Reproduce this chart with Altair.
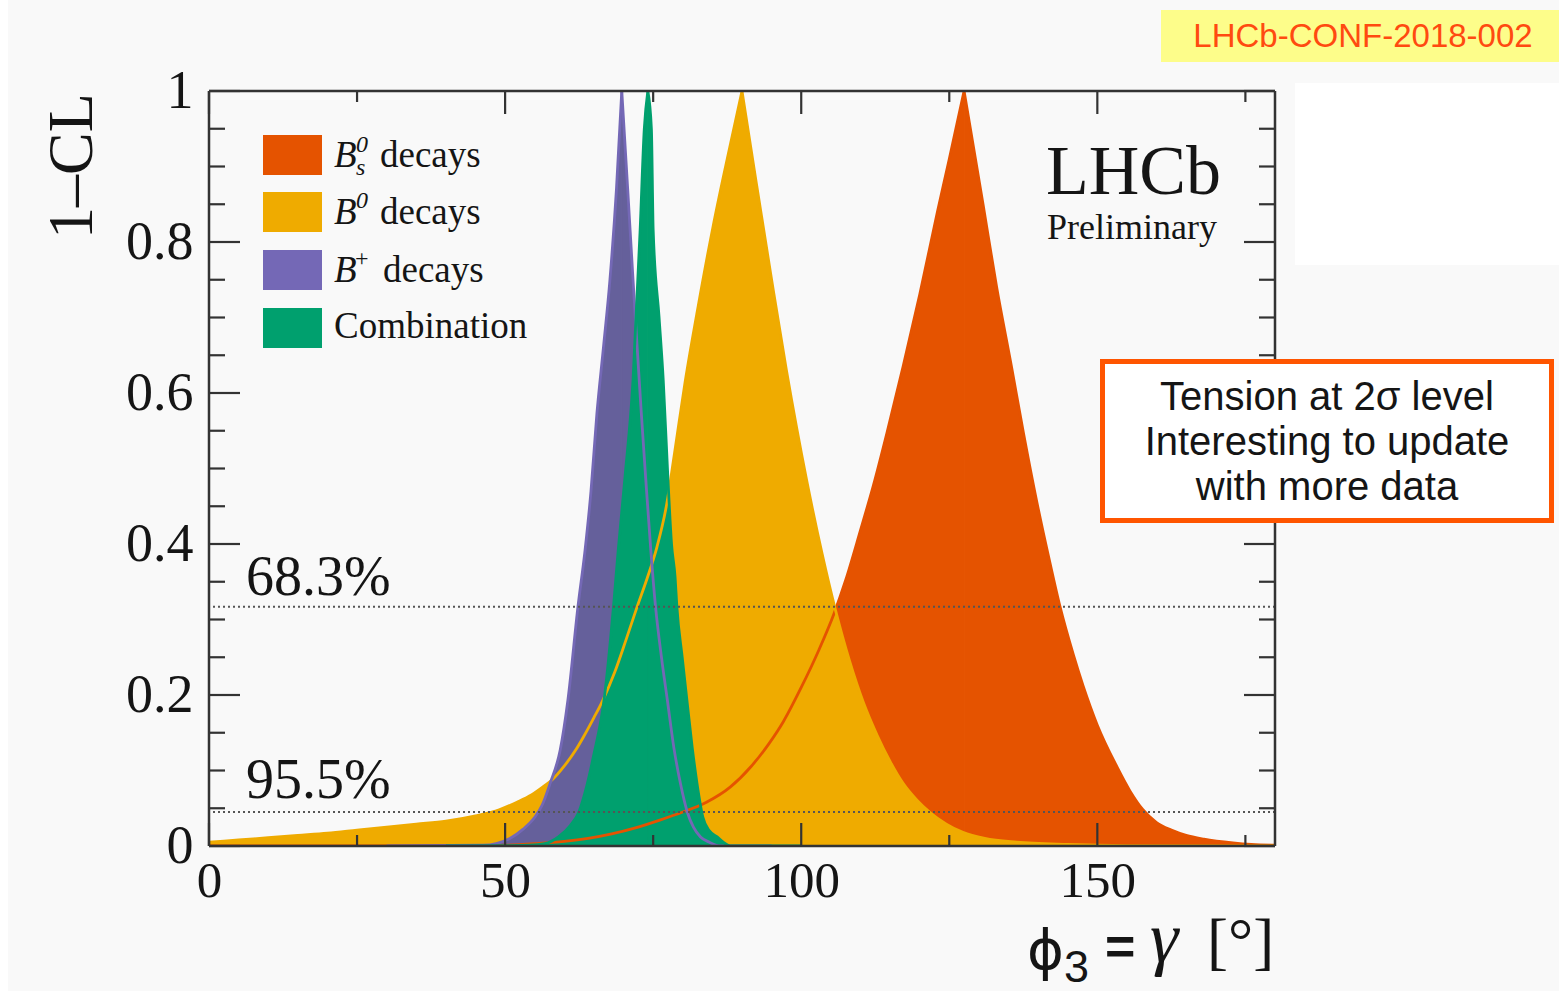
import altair as alt
import pandas as pd

# ---------------- data ----------------
BS_LEFT_X = [0, 40, 50, 55, 60, 64, 68, 72, 76, 80, 84, 88, 91.5, 94.5, 97, 100, 103, 105.5, 107.5, 110, 112.2, 114.5, 117.2, 120, 123, 125, 127.5]
BS_LEFT_Y = [0, 0, 0.001, 0.003, 0.006, 0.010, 0.016, 0.024, 0.034, 0.045, 0.058, 0.078, 0.105, 0.135, 0.165, 0.21, 0.26, 0.307, 0.352, 0.418, 0.478, 0.548, 0.635, 0.73, 0.84, 0.91, 1.0]
BS_RIGHT_X = [127.5, 130.7, 133, 135.5, 137.5, 139.8, 142, 143.7, 146, 147.6, 150, 153.3, 155.5, 157.7, 160, 162.5, 165, 168, 172.9, 176, 180]
BS_RIGHT_Y = [1.0, 0.85, 0.74, 0.635, 0.548, 0.455, 0.375, 0.317, 0.252, 0.212, 0.16, 0.105, 0.073, 0.048, 0.031, 0.021, 0.014, 0.009, 0.004, 0.002, 0.001]

B0_LEFT_X = [0, 5, 10, 15, 20, 25, 30, 35, 40, 45, 49, 52, 54.5, 56.5, 58, 60, 62, 63.2, 65, 66.5, 68.5, 70.5, 72.3, 74, 75.6, 77.2, 78.6, 80.4, 82.6, 85.1, 87.5, 90]
B0_LEFT_Y = [0.005, 0.008, 0.011, 0.014, 0.017, 0.021, 0.025, 0.029, 0.033, 0.040, 0.048, 0.058, 0.068, 0.079, 0.088, 0.106, 0.128, 0.144, 0.17, 0.193, 0.23, 0.275, 0.317, 0.355, 0.395, 0.449, 0.52, 0.615, 0.715, 0.82, 0.91, 1.0]
B0_RIGHT_X = [90, 92.5, 95, 97.5, 100.9, 103.5, 105.7, 108.2, 110.5, 112.8, 115, 117.2, 119.5, 121.8, 124.5, 127.3, 131, 136.4, 145, 155, 180]
B0_RIGHT_Y = [1.0, 0.874, 0.75, 0.63, 0.485, 0.388, 0.315, 0.244, 0.19, 0.147, 0.112, 0.083, 0.061, 0.044, 0.029, 0.018, 0.010, 0.005, 0.002, 0.0005, 0.0]

BP_LEFT_X = [30, 46.3, 50.8, 53, 55, 56.3, 57.6, 59.3, 60.6, 62.3, 63.5, 64.5, 65.5, 66.6, 67.7, 68.8, 69.7]
BP_LEFT_Y = [0, 0.001, 0.010, 0.022, 0.038, 0.055, 0.083, 0.127, 0.193, 0.317, 0.392, 0.47, 0.573, 0.66, 0.75, 0.87, 1.0]
BP_RIGHT_X = [69.7, 70.7, 71.6, 72.3, 73.0, 73.8, 74.6, 75.4, 76.4, 77.4, 78.5, 79.6, 80.8, 81.8, 83.0, 84.5, 86.4, 95]
BP_RIGHT_Y = [1.0, 0.87, 0.75, 0.66, 0.573, 0.48, 0.392, 0.317, 0.25, 0.193, 0.13, 0.083, 0.044, 0.025, 0.012, 0.005, 0.0, 0.0]

CB_LEFT_X = [40, 50, 54, 56.7, 59.0, 61, 62.4, 63.8, 64.9, 66.7, 68.3, 69.1, 70.2, 71.6, 72.8, 73.5, 74.1]
CB_LEFT_Y = [0, 0.0005, 0.001, 0.003, 0.012, 0.027, 0.044, 0.08, 0.118, 0.193, 0.317, 0.392, 0.485, 0.617, 0.816, 0.95, 1.0]
CB_RIGHT_X = [74.1, 74.7, 75.0, 76.0, 76.7, 77.5, 78.1, 78.7, 79.0, 79.9, 80.7, 81.6, 82.4, 83.4, 84.5, 85.8, 87, 88, 100]
CB_RIGHT_Y = [1.0, 0.95, 0.816, 0.70, 0.617, 0.485, 0.40, 0.356, 0.317, 0.25, 0.193, 0.13, 0.083, 0.038, 0.02, 0.012, 0.004, 0.0, 0.0]

SERIES = ["Bs", "B0", "Bp", "Comb"]
AREA_COLORS = ["#e55300", "#efab00", "#65609b", "#00a06e"]
LINE_COLORS = ["#e55300", "#efab00", "#7468b6", "#00a06e"]
LEGEND_COLORS = ["#e55300", "#efab00", "#7468b6", "#00a06e"]

CL_LEVELS = [0.317, 0.045]
X_MAJOR = [0, 50, 100, 150]
X_MINOR = [25, 75, 125, 175]
Y_MAJOR = [0, 0.2, 0.4, 0.6, 0.8, 1.0]
Y_MINOR = [0.05, 0.1, 0.15, 0.25, 0.3, 0.35, 0.45, 0.5, 0.55, 0.65, 0.7, 0.75, 0.85, 0.9, 0.95]

# ---------------- tables ----------------
rows = []
for name, side, xs, ys in [
    ("Bs", "L", BS_LEFT_X, BS_LEFT_Y), ("Bs", "R", BS_RIGHT_X, BS_RIGHT_Y),
    ("B0", "L", B0_LEFT_X, B0_LEFT_Y), ("B0", "R", B0_RIGHT_X, B0_RIGHT_Y),
    ("Bp", "L", BP_LEFT_X, BP_LEFT_Y), ("Bp", "R", BP_RIGHT_X, BP_RIGHT_Y),
    ("Comb", "L", CB_LEFT_X, CB_LEFT_Y), ("Comb", "R", CB_RIGHT_X, CB_RIGHT_Y),
]:
    for xv, yv in zip(xs, ys):
        rows.append({"series": name, "side": side, "x": xv, "y": yv})
df = pd.DataFrame(rows)
ONE = pd.DataFrame({"k": [0]})

W, H = 1066, 755
SERIF = "Liberation Serif"
SANS = "Liberation Sans"
INK = "#151515"
FRAME = "#333333"

xscale = alt.Scale(domain=[0, 180], nice=False, zero=False)
yscale = alt.Scale(domain=[0, 1], nice=False)
X = alt.X("x:Q", scale=xscale,
          axis=alt.Axis(values=X_MAJOR, format="d", labelFont=SERIF, labelFontSize=51,
                        labelColor=INK, ticks=False, domain=False, grid=False,
                        labelPadding=10, labelFlush=False, title=None))
Y = alt.Y("y:Q", scale=yscale, stack=None,
          axis=alt.Axis(values=Y_MAJOR, format=".1~f", labelFont=SERIF, labelFontSize=54,
                        labelColor=INK, ticks=False, domain=False, grid=False,
                        labelPadding=16, labelFlush=False, title=None))


def txt(s, x, y, size, font=SERIF, style="normal", weight="normal", align="left",
        baseline="alphabetic", color=INK, angle=0):
    props = dict(text=s, fontSize=size, font=font, fontStyle=style, fontWeight=weight,
                 align=align, baseline=baseline, color=color)
    if angle:
        props["angle"] = angle
    return alt.Chart(ONE).mark_text(**props).encode(x=alt.value(x), y=alt.value(y))


def rect(x1, y1, x2, y2, fill, stroke="", sw=0):
    props = dict(fill=fill)
    if stroke:
        props.update(stroke=stroke, strokeWidth=sw)
    return alt.Chart(ONE).mark_rect(**props).encode(
        x=alt.value(x1), x2=alt.value(x2), y=alt.value(y1), y2=alt.value(y2))


def seg(x1, y1, x2, y2, color=FRAME, sw=2.5):
    return alt.Chart(ONE).mark_rule(color=color, strokeWidth=sw).encode(
        x=alt.value(x1), x2=alt.value(x2), y=alt.value(y1), y2=alt.value(y2))


layers = []
# page decorations outside the frame
layers.append(rect(-209, -91, -201, 900, "#ffffff"))
layers.append(rect(1086, -8, 1350, 174, "#ffffff"))

# filled areas
for s, c in zip(SERIES, AREA_COLORS):
    layers.append(
        alt.Chart(df).transform_filter(alt.FieldEqualPredicate(field="series", equal=s))
        .mark_area(color=c, stroke=c, strokeWidth=1, interpolate="monotone", clip=True)
        .encode(x=X, y=Y, detail="side:N"))
# outlines on top
for s, c in zip(SERIES, LINE_COLORS):
    layers.append(
        alt.Chart(df).transform_filter(alt.FieldEqualPredicate(field="series", equal=s))
        .mark_line(color=c, strokeWidth=2.8, interpolate="monotone", clip=True)
        .encode(x=X, y=Y, detail="side:N"))

# CL levels
layers.append(alt.Chart(pd.DataFrame({"y": CL_LEVELS})).mark_rule(
    color="#555555", strokeWidth=2, strokeDash=[2, 3]).encode(y=Y))

# ticks (inside, all four sides)
xmaj = pd.DataFrame({"x": X_MAJOR})
xmin = pd.DataFrame({"x": X_MINOR})
ymaj = pd.DataFrame({"y": Y_MAJOR})
ymin = pd.DataFrame({"y": Y_MINOR})
for d, ln in [(xmaj, 23), (xmin, 11)]:
    layers.append(alt.Chart(d).mark_rule(color=FRAME, strokeWidth=2.2).encode(
        x=X, y=alt.value(H), y2=alt.value(H - ln)))
    layers.append(alt.Chart(d).mark_rule(color=FRAME, strokeWidth=2.2).encode(
        x=X, y=alt.value(0), y2=alt.value(ln)))
for d, ln in [(ymaj, 31), (ymin, 16)]:
    layers.append(alt.Chart(d).mark_rule(color=FRAME, strokeWidth=2.2).encode(
        y=Y, x=alt.value(0), x2=alt.value(ln)))
    layers.append(alt.Chart(d).mark_rule(color=FRAME, strokeWidth=2.2).encode(
        y=Y, x=alt.value(W), x2=alt.value(W - ln)))

# frame
layers += [seg(0, 0, W, 0), seg(0, H, W, H), seg(0, 0, 0, H), seg(W, 0, W, H)]

# legend
sw_y = [44, 101, 159, 217]
for i, c in enumerate(LEGEND_COLORS):
    layers.append(rect(54, sw_y[i], 113, sw_y[i] + 40, c))
layers += [
    txt("B", 125, 76, 37, style="italic"),
    txt("0", 147, 61, 24, style="italic"),
    txt("s", 147, 84, 24, style="italic"),
    txt("decays", 171, 76, 37),
    txt("B", 125, 133, 37, style="italic"),
    txt("0", 147, 117, 24, style="italic"),
    txt("decays", 171, 133, 37),
    txt("B", 125, 191, 37, style="italic"),
    txt("+", 146, 175, 24),
    txt("decays", 174, 191, 37),
    txt("Combination", 125, 247, 37),
]

# LHCb label
layers += [txt("LHCb", 837, 103, 70), txt("Preliminary", 838, 148, 36)]

# CL labels
layers += [txt("68.3%", 37, 504, 56), txt("95.5%", 37, 707, 56)]

# axis titles
layers.append(txt("1\u2013CL", -117, 75, 64, align="center", angle=270))
layers += [
    txt("\u03d5", 818, 878, 56, font="DejaVu Sans"),
    txt("3", 855, 891, 45, font=SANS),
    txt("=", 896, 873, 52, font=SANS, weight="bold"),
    txt("\u03b3", 941, 871, 72, style="italic"),
    txt("[\u00b0]", 998, 871, 63),
]

# annotation boxes
layers.append(rect(952, -81, 1350, -29, "#fdfd8a"))
layers.append(txt("LHCb-CONF-2018-002", 1154, -54, 33, font=SANS, align="center",
                  baseline="middle", color="#ff4a10"))
layers.append(rect(893.5, 270.5, 1342.5, 429.5, "#ffffff", stroke="#ff5500", sw=5))
for t, yy in [("Tension at 2\u03c3 level", 307), ("Interesting to update", 352),
              ("with more data", 397)]:
    layers.append(txt(t, 1118, yy, 40, font=SANS, align="center", baseline="middle"))

chart = alt.layer(*layers).properties(
    width=W, height=H,
    padding={"left": 209, "top": 91, "right": 284, "bottom": 145},
    autosize=alt.AutoSizeParams(type="none"),
).configure(background="#f9f9f9").configure_view(stroke="transparent")

chart.save("out.html", embed_options={"renderer": "svg", "actions": False})
